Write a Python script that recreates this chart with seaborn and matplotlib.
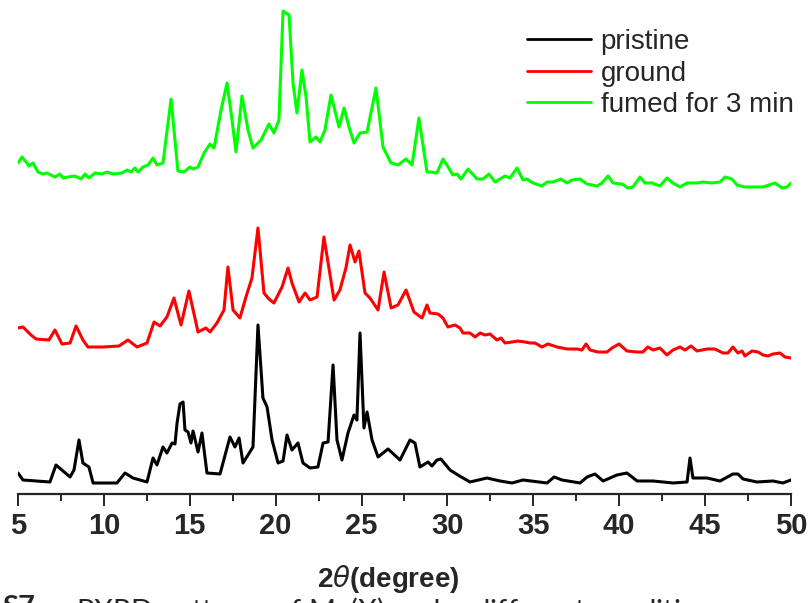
import numpy as np
import pandas as pd
import matplotlib
matplotlib.use('Agg')
import matplotlib.pyplot as plt
import seaborn as sns
from matplotlib.ticker import MultipleLocator

# PXRD traces (2theta in degrees, intensity in a.u., already offset)
pristine_x = [5.00, 5.29, 6.86, 7.21, 8.03, 8.26, 8.55, 8.78, 9.13, 9.37, 10.76, 11.23, 11.69,
              12.51, 12.86, 13.09, 13.44, 13.67, 13.97, 14.14, 14.26, 14.43, 14.61, 14.72, 14.90,
              15.07, 15.19, 15.48, 15.71, 16.00, 16.76, 17.34, 17.63, 17.87, 18.10, 18.39, 18.68,
              18.97, 19.26, 19.50, 19.79, 20.14, 20.43, 20.66, 20.95, 21.30, 21.59, 22.00, 22.46,
              22.76, 23.05, 23.34, 23.57, 23.86, 24.21, 24.56, 24.73, 24.91, 25.14, 25.32, 25.61,
              25.96, 26.54, 27.24, 27.53, 27.82, 28.11, 28.40, 28.87, 29.10, 29.39, 29.62, 30.15,
              30.61, 31.31, 32.30, 33.06, 33.76, 34.40, 35.80, 36.21, 36.67, 37.72, 38.13, 38.59,
              39.06, 39.87, 40.45, 41.04, 41.97, 43.13, 43.95, 44.12, 44.29, 45.11, 45.87, 46.62,
              46.91, 47.21, 48.02, 48.95, 49.52, 50.00]
pristine_y = [21, 14, 12, 29, 17, 24, 54, 31, 27, 11, 11, 21, 16,
              12, 36, 29, 47, 41, 51, 50, 71, 90, 92, 64, 62,
              51, 63, 42, 61, 21, 20, 57, 47, 56, 31, 39, 47,
              169, 96, 87, 54, 31, 33, 59, 44, 51, 31, 26, 27,
              51, 52, 129, 54, 34, 61, 79, 74, 161, 66, 82, 54,
              37, 45, 34, 44, 54, 51, 27, 32, 28, 34, 35, 24,
              19, 12, 16, 13, 11, 14, 11, 17, 14, 11, 17, 20,
              13, 19, 21, 13, 13, 11, 12, 36, 16, 16, 13, 20,
              20, 15, 12, 13, 11, 14]

ground_x = [5.00, 5.29, 5.76, 6.05, 6.80, 7.15, 7.56, 8.03, 8.38, 8.78, 9.07, 9.95, 10.88,
            11.40, 11.93, 12.51, 12.92, 13.27, 13.67, 14.08, 14.49, 14.95, 15.48, 15.94, 16.18,
            16.58, 16.99, 17.22, 17.52, 17.92, 18.27, 18.62, 18.97, 19.32, 19.61, 19.90, 20.37,
            20.72, 20.95, 21.36, 21.71, 22.00, 22.41, 22.81, 23.40, 23.74, 24.09, 24.33, 24.62,
            24.85, 25.20, 25.49, 25.96, 26.31, 26.72, 27.12, 27.59, 28.05, 28.52, 28.81,
            28.98, 29.45, 29.74, 30.03, 30.44, 30.73, 30.91, 31.31, 31.61, 31.90, 32.19, 32.48,
            32.88, 33.12, 33.35, 33.76, 34.11, 34.51, 34.81, 35.10, 35.50, 35.85, 36.38, 36.96,
            37.54, 37.83, 38.07, 38.30, 38.76, 39.29, 39.58, 39.99, 40.45, 41.04, 41.38, 41.67,
            41.97, 42.37, 42.78, 43.13, 43.54, 43.83, 44.18, 44.53, 45.11, 45.57, 46.04, 46.33,
            46.62, 46.91, 47.15, 47.32, 47.73, 48.08, 48.37, 48.66, 48.95, 49.36, 49.65, 50.00]
ground_y = [166, 167, 159, 155, 154, 164, 150, 151, 168, 154, 147, 147, 148,
            154, 147, 151, 172, 168, 177, 196, 169, 203, 162, 166, 162,
            171, 184, 227, 184, 176, 197, 216, 266, 201, 195, 191, 207,
            226, 211, 192, 201, 194, 197, 257, 194, 204, 226, 249, 232,
            243, 201, 196, 184, 222, 186, 189, 204, 182, 176, 189,
            181, 180, 176, 167, 169, 166, 161, 161, 157, 161, 159, 160,
            154, 156, 151, 152, 153, 152, 151, 151, 147, 150, 147, 145,
            145, 144, 150, 144, 142, 142, 146, 150, 143, 142, 142, 147,
            144, 146, 139, 144, 147, 144, 148, 143, 145, 145, 141, 141,
            147, 141, 143, 138, 143, 142, 139, 138, 140, 141, 137, 136]

fumed_x = [5.00, 5.23, 5.52, 5.64, 5.87, 6.16, 6.46, 6.69, 7.15, 7.44, 7.62, 7.91, 8.32,
           8.67, 8.90, 9.13, 9.48, 9.89, 10.18, 10.53, 11.05, 11.35, 11.58, 11.81, 11.99,
           12.28, 12.57, 12.86, 13.09, 13.44, 13.91, 14.31, 14.66, 15.01, 15.19, 15.48, 15.83,
           16.18, 16.41, 16.82, 17.17, 17.46, 17.69, 18.04, 18.39, 18.68, 19.15, 19.61, 19.90,
           20.19, 20.43, 20.78, 21.01, 21.24, 21.53, 21.77, 22.00, 22.35, 22.58, 22.87, 23.22,
           23.69, 23.98, 24.27, 24.56, 24.91, 25.32, 25.84, 26.25, 26.71, 27.12, 27.59, 27.94,
           28.34, 28.81, 28.98, 29.39, 29.74, 29.97, 30.32, 30.56, 30.79, 31.20, 31.72, 32.07,
           32.42, 32.77, 33.06, 33.35, 33.64, 34.05, 34.40, 34.63, 34.98, 35.50, 35.80, 36.14,
           36.61, 36.96, 37.25, 37.72, 38.12, 38.71, 39.00, 39.35, 39.64, 40.16, 40.51, 40.80,
           41.21, 41.50, 41.91, 42.37, 42.78, 43.13, 43.54, 43.95, 44.53, 44.88, 45.40, 45.87,
           46.16, 46.56, 46.86, 47.32, 47.79, 48.37, 49.07, 49.48, 49.77, 50.00]
fumed_y = [331, 337, 331, 328, 331, 322, 320, 321, 317, 320, 316, 317, 318,
           315, 320, 316, 321, 320, 322, 320, 321, 324, 322, 326, 322,
           327, 329, 336, 329, 331, 395, 323, 322, 327, 325, 327, 341,
           350, 346, 384, 411, 374, 342, 398, 364, 346, 354, 370, 361,
           374, 483, 479, 411, 381, 424, 397, 352, 357, 352, 364, 399,
           367, 386, 367, 351, 361, 362, 406, 347, 331, 329, 335, 329,
           376, 322, 322, 321, 335, 329, 319, 320, 315, 325, 315, 315,
           320, 312, 315, 318, 316, 326, 314, 315, 311, 308, 312, 312,
           315, 311, 314, 315, 310, 308, 311, 318, 311, 310, 306, 307,
           317, 311, 311, 308, 316, 311, 307, 311, 311, 312, 311, 312,
           317, 315, 309, 307, 307, 307, 311, 306, 307, 311]

labels = ['pristine', 'ground', 'fumed for 3 min']
colors = ['#000000', '#ff0000', '#00ff00']

df = pd.concat([
    pd.DataFrame({'2theta': pristine_x, 'I': pristine_y, 'sample': labels[0]}),
    pd.DataFrame({'2theta': ground_x, 'I': ground_y, 'sample': labels[1]}),
    pd.DataFrame({'2theta': fumed_x, 'I': fumed_y, 'sample': labels[2]}),
])

sns.set_style('ticks')
plt.rcParams['font.family'] = ['Liberation Sans', 'DejaVu Sans']
plt.rcParams['mathtext.fontset'] = 'dejavusans'

fig = plt.figure(figsize=(8.11, 6.03), dpi=100)
ax = fig.add_axes([18 / 811, 109 / 603, 773 / 811, 494 / 603])

sns.lineplot(data=df, x='2theta', y='I', hue='sample', hue_order=labels,
             palette=dict(zip(labels, colors)), estimator=None, sort=False,
             linewidth=2.2, ax=ax)

ax.set_xlim(5, 50)
ax.set_ylim(0, 494)
ax.xaxis.set_major_locator(MultipleLocator(5))
ax.xaxis.set_minor_locator(MultipleLocator(2.5))
ax.set_yticks([])
ax.set_ylabel('')
for s in ['left', 'top', 'right']:
    ax.spines[s].set_visible(False)
ax.spines['bottom'].set_linewidth(1.6)
ax.tick_params(axis='x', which='major', length=8.6, width=1.4, pad=4,
               labelsize=21, direction='out')
ax.tick_params(axis='x', which='minor', length=5, width=1.4, direction='out')
for t in ax.get_xticklabels():
    t.set_fontweight('bold')

ax.set_xlabel(r'2$\theta$(degree)', fontsize=20, fontweight='bold')
ax.xaxis.set_label_coords((388 - 18) / 773, -69 / 494)

leg = ax.legend(loc='upper left', bbox_to_anchor=(527 / 811, 1 - 29 / 603),
                bbox_transform=fig.transFigure, frameon=False,
                handlelength=2.3, handletextpad=0.35, labelspacing=0.2,
                borderpad=0, borderaxespad=0,
                prop={'family': ['Liberation Sans', 'DejaVu Sans'], 'size': 20})
for line in leg.get_lines():
    line.set_linewidth(2.0)

# caption of the source figure, cut off by the bottom edge
fig.text(2 / 811, 1 - 595 / 603, 'S7', fontsize=21, fontweight='bold',
         family=['Lato', 'DejaVu Sans'], va='top', ha='left')
fig.text(76 / 811, 1 - 595 / 603, 'PXRD patterns of M$_1$(X) under different conditions',
         fontsize=21, family=['Lato', 'DejaVu Sans'], va='top', ha='left')

fig.savefig('out.png', dpi=100)
